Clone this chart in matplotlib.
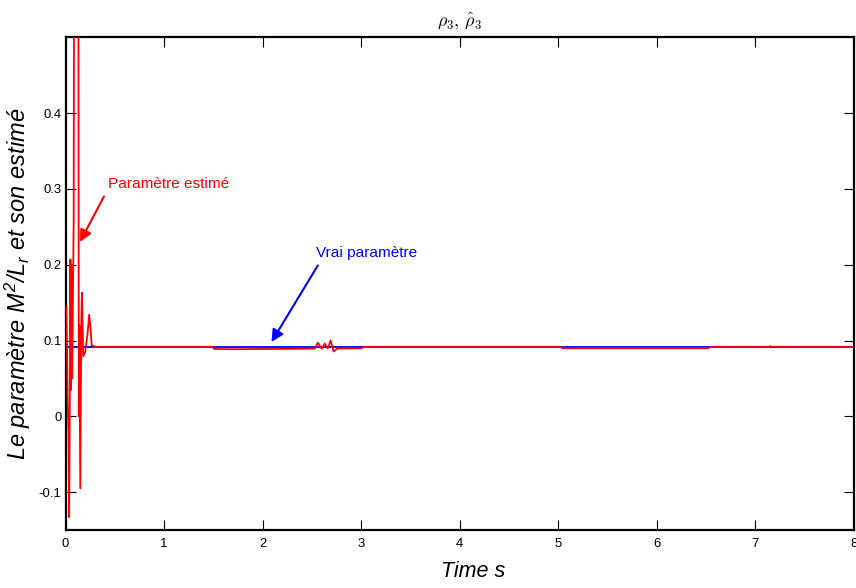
import matplotlib
matplotlib.use("Agg")
import matplotlib.pyplot as plt
import matplotlib.font_manager as fm

# ---- data ----
true_value = 0.0917
t_range = [0.0, 8.0]

est_t = [0.0, 0.008, 0.015, 0.022, 0.030, 0.037, 0.043, 0.050, 0.056, 0.062,
         0.068, 0.075, 0.083, 0.088, 0.130, 0.135, 0.140, 0.150, 0.160, 0.167,
         0.180, 0.200, 0.225, 0.240, 0.255, 0.265, 0.300,
         1.49, 1.51, 1.70, 2.00, 2.30, 2.50, 2.53, 2.56, 2.60, 2.63, 2.66,
         2.69, 2.72, 2.76, 3.00, 3.03,
         5.02, 5.04, 6.52, 6.54, 7.14, 7.15, 7.16, 8.0]
est_v = [0.130, 0.145, 0.100, 0.020, -0.020, -0.133, 0.000, 0.207, 0.035, 0.200,
         0.050, 0.150, 0.260, 0.700, 0.700, 0.000, 0.120, -0.095, 0.120, 0.163,
         0.079, 0.085, 0.110, 0.134, 0.115, 0.094, 0.0917,
         0.0917, 0.0888, 0.0885, 0.0888, 0.0890, 0.0893, 0.0893, 0.0970, 0.0890, 0.0960, 0.0895,
         0.1000, 0.0855, 0.0895, 0.0897, 0.0917,
         0.0917, 0.0898, 0.0898, 0.0917, 0.0917, 0.0925, 0.0917, 0.0917]

xticks = [0, 1, 2, 3, 4, 5, 6, 7, 8]
yticks = [-0.1, 0, 0.1, 0.2, 0.3, 0.4]
yticklabels = ["-0.1", "0", "0.1", "0.2", "0.3", "0.4"]

names = {f.name for f in fm.fontManager.ttflist}
narrow = "Liberation Sans Narrow" if "Liberation Sans Narrow" in names else "Liberation Sans"
sz_scale = 1.0 if narrow == "Liberation Sans Narrow" else 0.82

plt.rcParams['mathtext.fontset'] = 'custom'
plt.rcParams['mathtext.it'] = 'Liberation Sans:italic'
plt.rcParams['mathtext.rm'] = 'Liberation Sans:italic'

fig = plt.figure(figsize=(8.56, 5.88), dpi=100)
ax = fig.add_axes([65.5/856, 1-530/588, (854-65.5)/856, (530-37.3)/588])

ax.plot(t_range, [true_value, true_value], color='#0000ff', lw=1.3, zorder=2)
ax.plot(est_t, est_v, color='#ff0000', lw=1.3, zorder=3)

ax.set_xlim(0, 8)
ax.set_ylim(-0.15, 0.5)
ax.set_xticks(xticks)
ax.set_xticklabels([str(x) for x in xticks], fontfamily=narrow, fontsize=11.5*sz_scale)
ax.set_yticks(yticks)
ax.set_yticklabels(yticklabels, fontfamily=narrow, fontsize=11.5*sz_scale)
ax.tick_params(direction='in', top=True, right=True, length=7, width=0.8,
               color='black')
ax.tick_params(axis='x', pad=6)
ax.tick_params(axis='y', pad=3)
for s in ax.spines.values():
    s.set_linewidth(1.6)

ax.set_title(r'$\rho_3,\,\hat{\rho}_3$', fontsize=13, math_fontfamily='cm', pad=8)
ax.set_xlabel('Time s', fontfamily='Liberation Sans', style='italic', fontsize=15.5)
ax.xaxis.set_label_coords(0.517, -0.063)
ax.set_ylabel(r'Le paramètre $M^2/L_r$ et son estimé', fontfamily='Liberation Sans',
              style='italic', fontsize=17)
ax.yaxis.set_label_coords(-0.041, 0.5)

ax.text(0.43, 0.306, 'Paramètre estimé', color='#ff0000', fontfamily=narrow,
        fontsize=13.5*sz_scale, va='center', ha='left')
ax.annotate('', xy=(0.147, 0.23), xytext=(0.39, 0.29),
            arrowprops=dict(arrowstyle='-|>', color='#ff0000', lw=1.5,
                            mutation_scale=18, shrinkA=0, shrinkB=0))
ax.text(2.54, 0.216, 'Vrai paramètre', color='#0000ff', fontfamily=narrow,
        fontsize=13.5*sz_scale, va='center', ha='left')
ax.annotate('', xy=(2.09, 0.098), xytext=(2.56, 0.199),
            arrowprops=dict(arrowstyle='-|>', color='#0000ff', lw=1.5,
                            mutation_scale=18, shrinkA=0, shrinkB=0))

fig.savefig('out.png', dpi=100)
